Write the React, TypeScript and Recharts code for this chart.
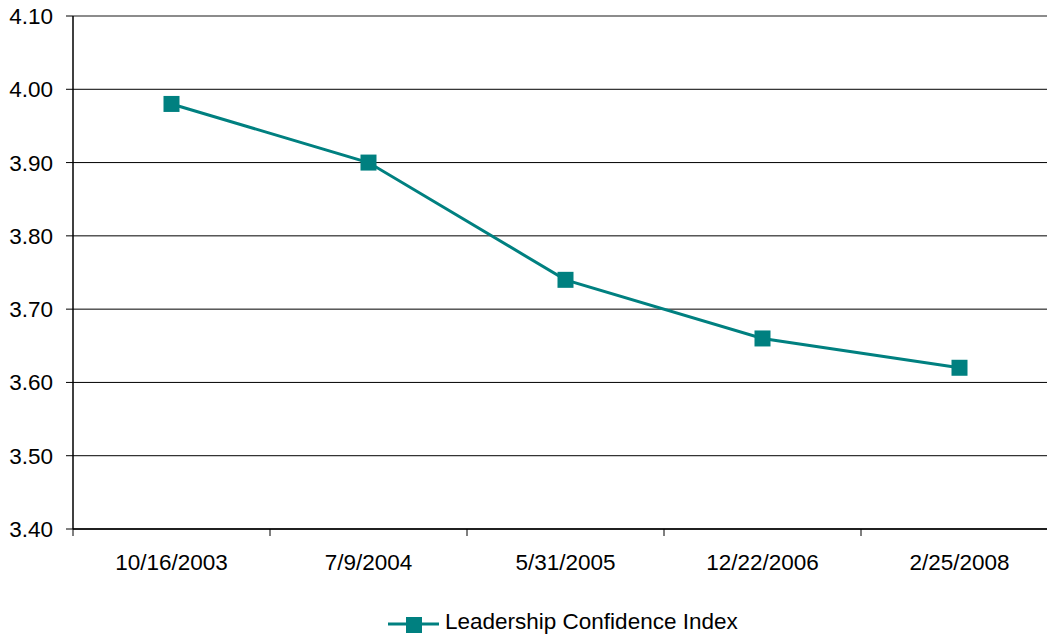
import React from "react";
import {
  LineChart,
  Line,
  XAxis,
  YAxis,
  CartesianGrid,
  ReferenceLine,
  Legend,
} from "recharts";

const surveyDates = ["10/16/2003", "7/9/2004", "5/31/2005", "12/22/2006", "2/25/2008"];
const confidenceIndex = [3.98, 3.9, 3.74, 3.66, 3.62];
const yTicks = [3.4, 3.5, 3.6, 3.7, 3.8, 3.9, 4.0, 4.1];

const SERIES_NAME = "Leadership Confidence Index";
const TEAL = "#008080";
const FONT = "'Liberation Sans', Arial, sans-serif";
const FONT_SIZE = 22.5;

const CHART_W = 1070;
const PLOT_LEFT = 73;
const PLOT_RIGHT_MARGIN = 12;

const data = surveyDates.map((date, i) => ({ date, value: confidenceIndex[i] }));

// Category label centred in its band, with a tick mark on the band's left boundary
const DateTick = (props: any) => {
  const { x, y, payload } = props;
  const half = (CHART_W - PLOT_LEFT - PLOT_RIGHT_MARGIN) / surveyDates.length / 2;
  return (
    <g>
      <line x1={x - half} y1={y} x2={x - half} y2={y + 7} stroke="#000" strokeWidth={1} />
      <text
        x={x}
        y={y + 41}
        textAnchor="middle"
        fontFamily={FONT}
        fontSize={FONT_SIZE}
        fill="#000"
      >
        {payload.value}
      </text>
    </g>
  );
};

const ValueTick = (props: any) => {
  const { x, y, payload } = props;
  return (
    <text
      x={x - 13}
      y={y}
      dy="0.355em"
      textAnchor="end"
      fontFamily={FONT}
      fontSize={FONT_SIZE}
      fill="#000"
    >
      {Number(payload.value).toFixed(2)}
    </text>
  );
};

const LegendContent = () => (
  <svg width={360} height={26} style={{ display: "block", overflow: "visible" }}>
    <line x1={0} y1={14} x2={51} y2={14} stroke={TEAL} strokeWidth={3} />
    <rect x={18} y={7} width={16} height={16} fill={TEAL} />
    <text x={57} y={19} fontFamily={FONT} fontSize={FONT_SIZE} fill="#000">
      {SERIES_NAME}
    </text>
  </svg>
);

const SquareDot = (props: any) => {
  const { cx, cy } = props;
  if (cx == null || cy == null) return null;
  return <rect x={cx - 8} y={cy - 8} width={16} height={16} fill={TEAL} />;
};

export default function App() {
  return (
    <div style={{ position: "absolute", left: 0, top: 0 }}>
      <LineChart
        width={CHART_W}
        height={637}
        data={data}
        margin={{ top: 16, right: PLOT_RIGHT_MARGIN, left: 0, bottom: 52 }}
      >
        <CartesianGrid vertical={false} stroke="#000" strokeWidth={1} />
        <ReferenceLine y={4.1} stroke="#8c8c8c" strokeWidth={2} />
        <XAxis
          dataKey="date"
          scale="band"
          height={30}
          axisLine={{ stroke: "#000", strokeWidth: 1.5 }}
          tickLine={false}
          tickSize={0}
          tickMargin={0}
          interval={0}
          tick={<DateTick />}
        />
        <YAxis
          width={PLOT_LEFT}
          domain={[3.4, 4.1]}
          ticks={yTicks}
          interval={0}
          allowDataOverflow
          axisLine={{ stroke: "#000", strokeWidth: 1.5 }}
          tickLine={{ stroke: "#000" }}
          tickSize={7}
          tickMargin={0}
          tick={<ValueTick />}
        />
        <Legend
          content={<LegendContent />}
          wrapperStyle={{ position: "absolute", left: 388, top: 610, width: 360, height: 26 }}
        />
        <Line
          type="linear"
          dataKey="value"
          name={SERIES_NAME}
          stroke={TEAL}
          strokeWidth={3}
          dot={<SquareDot />}
          activeDot={false}
          isAnimationActive={false}
        />
      </LineChart>
    </div>
  );
}
